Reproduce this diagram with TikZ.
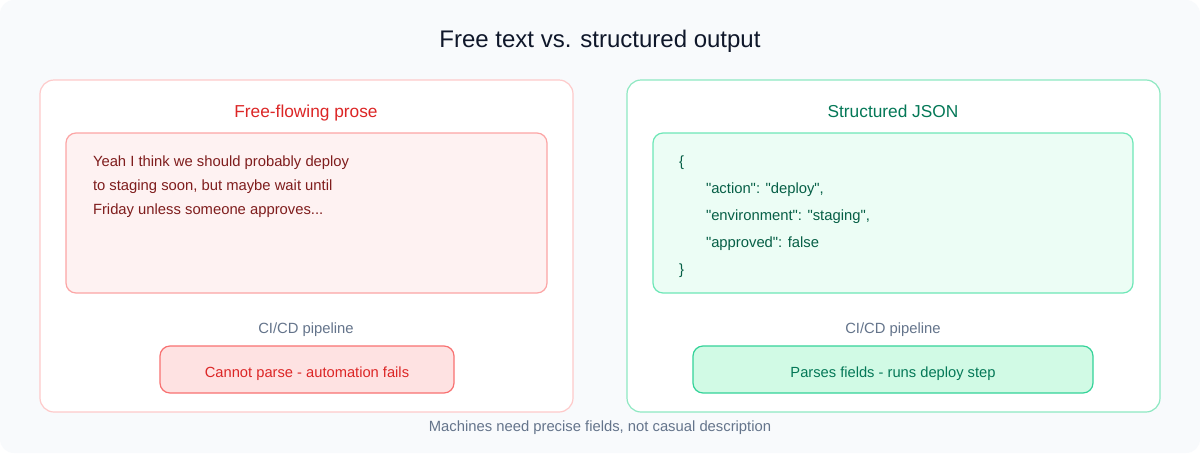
\documentclass[tikz,border=0pt]{standalone}
\usepackage{fontspec}
\setmainfont{Liberation Sans}[Ligatures=TeXOff]
\definecolor{cmpBack}{HTML}{F8FAFC}
\definecolor{cmpInk}{HTML}{0F172A}
\definecolor{cmpGray}{HTML}{64748B}
\definecolor{cmpRed}{HTML}{DC2626}
\definecolor{cmpRedDark}{HTML}{7F1D1D}
\definecolor{cmpRedEdge}{HTML}{FECACA}
\definecolor{cmpRedLine}{HTML}{FCA5A5}
\definecolor{cmpRedFill}{HTML}{FEF2F2}
\definecolor{cmpRedBox}{HTML}{FEE2E2}
\definecolor{cmpRedBoxEdge}{HTML}{F87171}
\definecolor{cmpGreen}{HTML}{047857}
\definecolor{cmpGreenDark}{HTML}{065F46}
\definecolor{cmpGreenEdge}{HTML}{8EE8C2}
\definecolor{cmpGreenLine}{HTML}{6EE7B7}
\definecolor{cmpGreenFill}{HTML}{ECFDF5}
\definecolor{cmpGreenBox}{HTML}{D1FAE5}
\definecolor{cmpGreenBoxEdge}{HTML}{34D399}
\tikzset{
  cmp diagram/.style={
    x=1pt, y=-1pt, line width=1.2pt,
    every node/.style={inner sep=0pt, outer sep=0pt}
  },
  cmp panel/.style={fill=white, rounded corners=14pt},
  cmp inner/.style={rounded corners=10pt},
  cmp result/.style={rounded corners=10pt, minimum height=47pt,
    text height=17pt, text depth=0.6pt,
    font=\fontsize{14.7}{17}\selectfont},
  cmp head/.style={font=\fontsize{17.3}{20}\selectfont, anchor=base},
  cmp body/.style={font=\fontsize{14.8}{17}\selectfont, anchor=base west},
  cmp note/.style={font=\fontsize{14.8}{17}\selectfont, text=cmpGray, anchor=base}
}

\begin{document}
\begin{tikzpicture}[cmp diagram]
    \useasboundingbox (0,0) rectangle (1200,453);
    \fill[white] (0,0) rectangle (1200,453);
    \fill[cmpBack, rounded corners=14pt] (0,0) rectangle (1200,453);
    \node[font=\fontsize{24}{28}\selectfont, text=cmpInk] (title) at (600,41)
      {Free text vs. structured output};

    % free text side
    \draw[cmp panel, draw=cmpRedEdge] (40,80) rectangle (573,412);
    \node[cmp head, text=cmpRed] (proseHead) at (306,117) {Free-flowing prose};
    \draw[cmp inner, draw=cmpRedLine, fill=cmpRedFill] (66,133) rectangle (547,293);
    \node[cmp body, text=cmpRedDark] (prose1) at (93,166.5)
      {Yeah I think we should probably deploy};
    \node[cmp body, text=cmpRedDark] (prose2) at (93,190.5)
      {to staging soon, but maybe wait until};
    \node[cmp body, text=cmpRedDark] (prose3) at (93,214.5)
      {Friday unless someone approves...};
    \node[cmp note] (proseCi) at (306,333.3) {CI/CD pipeline};
    \node[cmp result, draw=cmpRedBoxEdge, fill=cmpRedBox, minimum width=294pt,
      text=cmpRed] (proseFail) at (307,369.5) {Cannot parse - automation fails};

    % structured side
    \draw[cmp panel, draw=cmpGreenEdge] (627,80) rectangle (1160,412);
    \node[cmp head, text=cmpGreen] (jsonHead) at (893,117) {Structured JSON};
    \draw[cmp inner, draw=cmpGreenLine, fill=cmpGreenFill] (653,133) rectangle (1133,293);
    \foreach \cmpX/\cmpY/\cmpLine in {679/166.5/\{,
      706/193.5/{"action": "deploy",},
      706/220.5/{"environment": "staging",},
      706/247.5/{"approved": false},
      679/274.5/\}} {
      \node[cmp body, text=cmpGreenDark] (json\cmpY) at (\cmpX,\cmpY) {\cmpLine};
    }
    \node[cmp note] (jsonCi) at (893,333.3) {CI/CD pipeline};
    \node[cmp result, draw=cmpGreenBoxEdge, fill=cmpGreenBox, minimum width=400pt,
      text=cmpGreen] (jsonPass) at (893,369.5) {Parses fields - runs deploy step};

    \node[cmp note] (footer) at (600,431.7)
      {Machines need precise fields, not casual description};
  \end{tikzpicture}
\end{document}
